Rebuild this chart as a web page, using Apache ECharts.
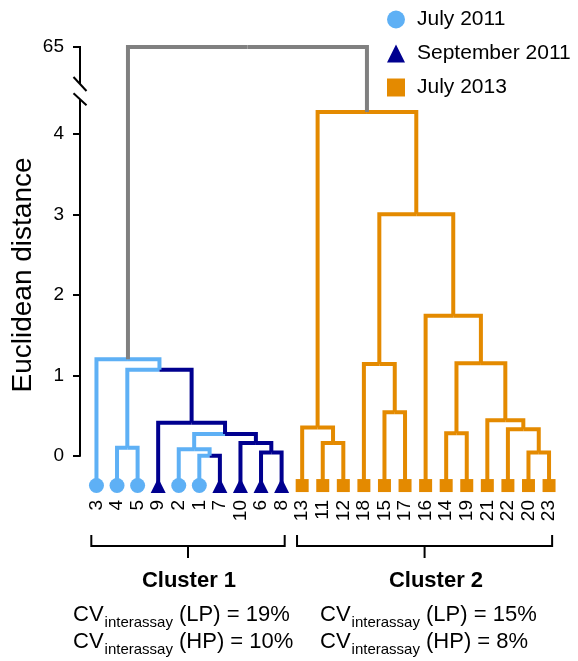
<!DOCTYPE html>
<html>
<head>
<meta charset="utf-8">
<script src="https://cdn.jsdelivr.net/npm/echarts@6/dist/echarts.min.js"></script>
<style>
html, body { margin: 0; padding: 0; background: #fff; }
#chart { width: 578px; height: 661px; }
</style>
</head>
<body>
<div id="chart"></div>
<script>
// leaves, in the order they sit along the bottom
var leafNames = ['3', '4', '5', '9', '2', '1', '7', '10', '6', '8',
    '13', '11', '12', '18', '15', '17', '16', '14', '19', '21', '22', '20', '23'];
var leafPeriod = ['July 2011', 'July 2011', 'July 2011', 'September 2011', 'July 2011', 'July 2011',
    'September 2011', 'September 2011', 'September 2011', 'September 2011',
    'July 2013', 'July 2013', 'July 2013', 'July 2013', 'July 2013', 'July 2013', 'July 2013',
    'July 2013', 'July 2013', 'July 2013', 'July 2013', 'July 2013', 'July 2013'];
var leafHeight = -0.37;

// merges: m0..m21, children are leaf names or earlier merge ids
var mergeLeft = ['4', '1', '2', '6', '10', 'm2', '9', 'm0', '3',
    '11', '13', '15', '18', '14', '20', '22', '21', 'm13', '16', 'm12', 'm10', 'm8'];
var mergeRight = ['5', '7', 'm1', '8', 'm3', 'm4', 'm5', 'm6', 'm7',
    '12', 'm9', '17', 'm11', '19', '23', 'm14', 'm15', 'm16', 'm17', 'm18', 'm19', 'm20'];
var mergeHeight = [0.10, 0.00, 0.08, 0.04, 0.16, 0.27, 0.41, 1.07, 1.20,
    0.16, 0.35, 0.54, 1.14, 0.28, 0.04, 0.33, 0.44, 1.15, 1.74, 3.00, 4.27, 65];
var mergeGroup = ['July 2011', 'July 2011', 'July 2011', 'September 2011', 'September 2011',
    'September 2011', 'September 2011', 'July 2011', 'mixed',
    'July 2013', 'July 2013', 'July 2013', 'July 2013', 'July 2013', 'July 2013', 'July 2013',
    'July 2013', 'July 2013', 'July 2013', 'July 2013', 'mixed', 'mixed'];

var yTicks = [0, 1, 2, 3, 4, 65];
var clusterFirst = [0, 10];
var clusterLast = [9, 22];

var groupNames = ['July 2011', 'September 2011', 'July 2013', 'mixed'];
var groupColors = ['#5EB0F5', '#00008F', '#E48A00', '#808080'];
var symbols = ['circle', 'triangle', 'rect'];
var symbolSizes = [15, 15, 13];
var FONT = '"Liberation Sans", Arial, sans-serif';
var X_MIN = -0.8, X_MAX = 22.8;
var BREAK_START = 4.43, BREAK_END = 64.54;

// node positions (x = mean of children)
var pos = {};
leafNames.forEach(function (n, i) {
    pos[n] = { x: i, h: leafHeight, g: leafPeriod[i] };
});
mergeLeft.forEach(function (l, i) {
    var a = pos[l], b = pos[mergeRight[i]];
    pos['m' + i] = { x: (a.x + b.x) / 2, h: mergeHeight[i], g: mergeGroup[i] };
});
var links = [];
mergeLeft.forEach(function (l, i) {
    var p = pos['m' + i];
    [l, mergeRight[i]].forEach(function (c) {
        var ch = pos[c];
        links.push([ch.x, ch.h, p.x, p.h, groupNames.indexOf(ch.g)]);
    });
});

var leafSeries = [0, 1, 2].map(function (k) {
    var data = [];
    leafNames.forEach(function (n, i) {
        if (leafPeriod[i] === groupNames[k]) data.push([i, leafHeight]);
    });
    return {
        name: groupNames[k],
        type: 'scatter',
        symbol: symbols[k],
        symbolSize: symbolSizes[k],
        itemStyle: { color: groupColors[k], opacity: 1 },
        data: data,
        z: 5,
        silent: true
    };
});

var mychart = echarts.init(document.getElementById('chart'));

var cvRich = {
    a: { fontSize: 22, lineHeight: 40, fill: '#000', fontFamily: FONT, verticalAlign: 'middle' },
    b: { fontSize: 15, lineHeight: 18, padding: [15, 0, 0, 1], fill: '#000', fontFamily: FONT, verticalAlign: 'middle' }
};
function cvText(x, y, txt) {
    return {
        type: 'text', x: x, y: y,
        style: {
            text: '{a|CV}{b|interassay}{a| ' + txt + '}',
            rich: cvRich, fill: '#000', align: 'left', verticalAlign: 'middle'
        }
    };
}

var option = {
    animation: false,
    textStyle: { fontFamily: FONT },
    grid: { left: 80, right: 12.5, top: 47, bottom: 169, outerBoundsMode: 'none' },
    legend: {
        orient: 'vertical',
        left: 382,
        top: 4,
        itemWidth: 18,
        itemHeight: 18,
        itemGap: 13,
        data: ['July 2011', 'September 2011', 'July 2013'],
        textStyle: { fontSize: 21, color: '#000', padding: [0, 0, 0, 7], fontFamily: FONT },
        selectedMode: false
    },
    xAxis: {
        type: 'value',
        min: X_MIN,
        max: X_MAX,
        axisLine: { show: false },
        axisTick: { show: false },
        splitLine: { show: false },
        axisLabel: {
            customValues: leafNames.map(function (n, i) { return i; }),
            formatter: function (v) { return leafNames[Math.round(v)]; },
            rotate: 90,
            fontSize: 19,
            color: '#000',
            margin: 8
        }
    },
    yAxis: {
        type: 'value',
        min: -0.45,
        max: 65,
        breaks: [{ start: BREAK_START, end: BREAK_END, gap: '3.4%' }],
        breakArea: { show: false },
        axisLine: { show: false, onZero: false },
        splitLine: { show: false },
        axisTick: { show: true, customValues: yTicks, length: 7, lineStyle: { color: '#000', width: 2 } },
        axisLabel: { customValues: yTicks, fontSize: 19, color: '#000', margin: 16 }
    },
    series: [{
        type: 'custom',
        name: 'links',
        silent: true,
        clip: false,
        encode: { x: [0, 2], y: [1, 3] },
        data: links,
        z: 3,
        renderItem: function (params, api) {
            var c1 = api.coord([api.value(0), api.value(1)]);
            var c2 = api.coord([api.value(0), api.value(3)]);
            var c3 = api.coord([api.value(2), api.value(3)]);
            return {
                type: 'polyline',
                shape: { points: [c1, c2, c3] },
                style: { stroke: groupColors[api.value(4)], lineWidth: 4, fill: null, lineJoin: 'miter' }
            };
        }
    }, {
        // y axis line with break marks
        type: 'custom',
        name: 'axis',
        silent: true,
        clip: false,
        data: [[X_MIN, 0]],
        renderItem: function (params, api) {
            var top = api.coord([X_MIN, yTicks[yTicks.length - 1]]);
            var bEnd = api.coord([X_MIN, BREAK_END]);
            var bStart = api.coord([X_MIN, BREAK_START]);
            var zero = api.coord([X_MIN, 0]);
            var st = { stroke: '#000', lineWidth: 2 };
            return {
                type: 'group',
                children: [
                    { type: 'line', shape: { x1: top[0], y1: top[1] - 1, x2: bEnd[0], y2: bEnd[1] }, style: st },
                    { type: 'line', shape: { x1: bStart[0], y1: bStart[1], x2: zero[0], y2: zero[1] + 1 }, style: st },
                    { type: 'line', shape: { x1: bEnd[0] - 6.5, y1: bEnd[1] - 7, x2: bEnd[0] + 6.5, y2: bEnd[1] + 7 }, style: st },
                    { type: 'line', shape: { x1: bStart[0] - 6.5, y1: bStart[1] - 6, x2: bStart[0] + 6.5, y2: bStart[1] + 6 }, style: st }
                ]
            };
        }
    }, {
        // cluster brackets under the labels
        type: 'custom',
        name: 'brackets',
        silent: true,
        clip: false,
        data: clusterFirst.map(function (f, i) { return [f, clusterLast[i]]; }),
        encode: { x: [0, 1] },
        renderItem: function (params, api) {
            var xs = api.coord([api.value(0) - 0.25, 0])[0];
            var xe = api.coord([api.value(1) + 0.15, 0])[0];
            var xm = (xs + xe) / 2;
            var st = { stroke: '#000', lineWidth: 2, fill: null };
            return {
                type: 'group',
                children: [
                    { type: 'polyline', shape: { points: [[xs, 535], [xs, 546], [xe, 546], [xe, 535]] }, style: st },
                    { type: 'line', shape: { x1: xm, y1: 546, x2: xm, y2: 558 }, style: st }
                ]
            };
        }
    }].concat(leafSeries),
    graphic: [
        {
            type: 'text', x: 23.5, y: 275, rotation: Math.PI / 2,
            style: { text: 'Euclidean distance', fontSize: 28, fill: '#000', align: 'center', verticalAlign: 'middle', fontFamily: FONT }
        },
        {
            type: 'text', x: 189, y: 580.5,
            style: { text: 'Cluster 1', fontSize: 22, fontWeight: 'bold', fill: '#000', align: 'center', verticalAlign: 'middle', fontFamily: FONT }
        },
        {
            type: 'text', x: 436, y: 580.5,
            style: { text: 'Cluster 2', fontSize: 22, fontWeight: 'bold', fill: '#000', align: 'center', verticalAlign: 'middle', fontFamily: FONT }
        },
        cvText(73, 615, '(LP) = 19%'),
        cvText(73, 642, '(HP) = 10%'),
        cvText(320, 615, '(LP) = 15%'),
        cvText(320, 642, '(HP) = 8%')
    ]
};

mychart.setOption(option);
</script>
</body>
</html>
